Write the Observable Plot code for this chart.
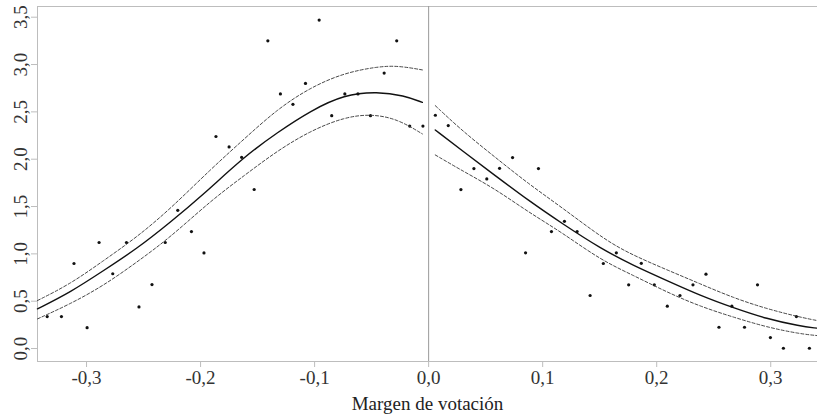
<!DOCTYPE html>
<html>
<head>
<meta charset="utf-8">
<script src="https://cdn.jsdelivr.net/npm/d3@7"></script>
<script src="https://cdn.jsdelivr.net/npm/@observablehq/plot@0.6"></script>
<style>
  html, body { margin: 0; padding: 0; background: #fff; }
</style>
</head>
<body>
<div id="chart"></div>
<script>
// Observed binned means
const leftX = [-0.3345,-0.322,-0.311,-0.2995,-0.289,-0.277,-0.265,-0.254,-0.2426,-0.231,-0.220,-0.208,-0.197,-0.1865,-0.175,-0.164,-0.153,-0.141,-0.130,-0.119,-0.108,-0.096,-0.085,-0.0735,-0.062,-0.051,-0.039,-0.028,-0.0166,-0.005];
const leftY = [0.338,0.338,0.898,0.22,1.12,0.79,1.12,0.44,0.676,1.12,1.46,1.235,1.01,2.24,2.13,2.02,1.68,3.25,2.69,2.58,2.80,3.47,2.46,2.69,2.69,2.46,2.91,3.25,2.35,2.35];
const rightX = [0.0059,0.0172,0.0283,0.0397,0.051,0.0622,0.0736,0.085,0.0963,0.1077,0.1191,0.1302,0.1416,0.1532,0.1646,0.1754,0.1865,0.1979,0.2093,0.2204,0.2318,0.2432,0.2546,0.2659,0.277,0.2884,0.2997,0.3111,0.3225,0.3339];
const rightY = [2.464,2.355,1.679,1.901,1.792,1.904,2.017,1.011,1.901,1.235,1.344,1.235,0.56,0.898,1.011,0.673,0.90,0.673,0.447,0.56,0.673,0.785,0.225,0.447,0.225,0.673,0.116,0.003,0.338,0.003];

// Fitted curves and confidence bands
const fitLeftX = [-0.343,-0.314,-0.285,-0.256,-0.2265,-0.197,-0.1617,-0.1325,-0.1033,-0.0741,-0.0449,-0.0216,-0.0055];
const fitLeftY = [0.419,0.595,0.824,1.053,1.334,1.633,2.027,2.284,2.513,2.682,2.714,2.672,2.60];
const upLeftX = [-0.343,-0.314,-0.285,-0.256,-0.2265,-0.1909,-0.1617,-0.1325,-0.1033,-0.0741,-0.0449,-0.027,-0.0055];
const upLeftY = [0.507,0.683,0.929,1.175,1.475,1.897,2.214,2.531,2.76,2.911,2.978,2.988,2.943];
const loLeftX = [-0.343,-0.314,-0.285,-0.256,-0.2265,-0.1909,-0.1617,-0.1325,-0.1033,-0.0741,-0.0507,-0.0274,-0.0055];
const loLeftY = [0.313,0.472,0.665,0.911,1.175,1.563,1.827,2.091,2.302,2.443,2.478,2.426,2.267];

const fitRightX = [0.0058,0.0292,0.0584,0.0876,0.1167,0.1512,0.1798,0.209,0.2382,0.2673,0.2966,0.3257,0.3405];
const fitRightY = [2.309,2.091,1.827,1.563,1.323,1.053,0.876,0.718,0.56,0.43,0.313,0.236,0.215];
const upRightX = [0.0058,0.0292,0.0584,0.0876,0.1167,0.1553,0.1798,0.209,0.2382,0.2673,0.2966,0.3257,0.3405];
const upRightY = [2.566,2.302,2.02,1.739,1.492,1.14,0.982,0.831,0.683,0.535,0.419,0.331,0.296];
const loRightX = [0.0058,0.0292,0.0584,0.0876,0.1167,0.1506,0.1798,0.209,0.2382,0.2673,0.2966,0.3257,0.3405];
const loRightY = [2.045,1.88,1.686,1.44,1.228,0.937,0.771,0.595,0.444,0.331,0.225,0.155,0.137];

const xTicks = [-0.3,-0.2,-0.1,0,0.1,0.2,0.3];
const yTicks = [0,0.5,1,1.5,2,2.5,3,3.5];
const xLabel = "Margen de votación";

const FONT = "'Liberation Serif', 'DejaVu Serif', serif";
const FS = 19;
const fmt = d => d.toFixed(1).replace(".", ",");
const pts = (xs, ys) => xs.map((x, i) => ({x, y: ys[i]}));

const dots = [...pts(leftX, leftY), ...pts(rightX, rightY)];
const solid = [pts(fitLeftX, fitLeftY), pts(fitRightX, fitRightY)];
const dashed = [pts(upLeftX, upLeftY), pts(loLeftX, loLeftY), pts(upRightX, upRightY), pts(loRightX, loRightY)];

const marks = [
  Plot.frame({stroke: "#bdbdbd"}),
  Plot.ruleX([0], {stroke: "#9a9a9a"}),
  Plot.axisX({ticks: xTicks, tickFormat: fmt, tickSize: 6, tickPadding: 3, stroke: "#bdbdbd", fill: "#333", label: null, fontFamily: FONT, fontSize: FS}),
  Plot.axisY({ticks: yTicks, tickFormat: fmt, tickSize: 6, tickPadding: 5, tickRotate: -90, stroke: "#bdbdbd", fill: "#333", label: null, fontFamily: FONT, fontSize: FS}),
  Plot.text([xLabel], {frameAnchor: "bottom", dy: 48, lineAnchor: "bottom", fill: "#222", text: d => d, fontFamily: FONT, fontSize: FS}),
  Plot.dot(dots, {x: "x", y: "y", r: 1.6, fill: "#111", stroke: "none"})
];
for (const s of dashed) marks.push(Plot.line(s, {x: "x", y: "y", curve: "basis", stroke: "#333", strokeWidth: 0.9, strokeDasharray: "3,2"}));
for (const s of solid) marks.push(Plot.line(s, {x: "x", y: "y", curve: "basis", stroke: "#111", strokeWidth: 1.4}));

const chart = Plot.plot({
  width: 817,
  height: 417,
  marginLeft: 37,
  marginRight: 0,
  marginTop: 6,
  marginBottom: 56,
  style: {fontFamily: FONT, fontSize: FS + "px", background: "#fff", color: "#333"},
  x: {domain: [-0.343, 0.341]},
  y: {domain: [-0.137, 3.613]},
  marks
});
document.getElementById("chart").appendChild(chart);
</script>
</body>
</html>
